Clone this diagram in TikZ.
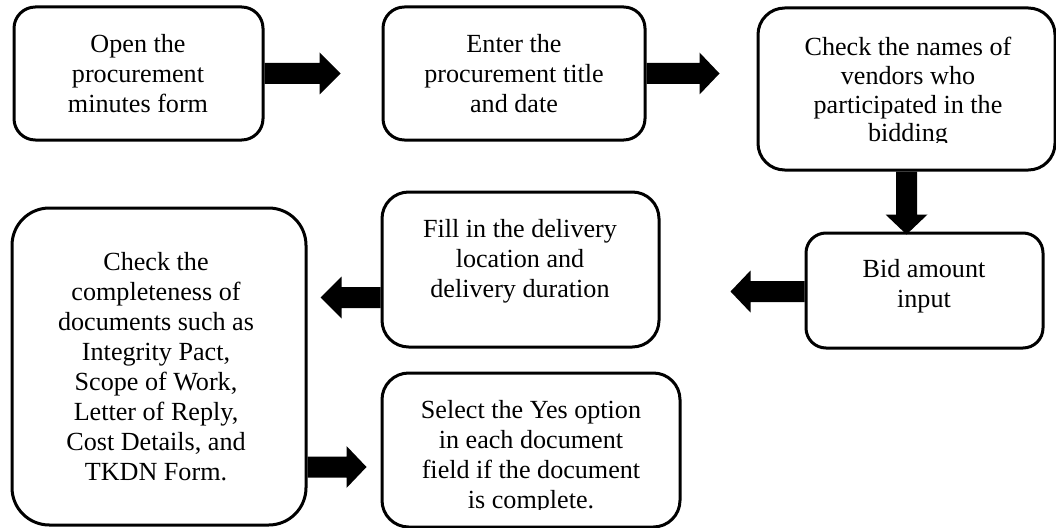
\documentclass[tikz,border=0pt]{standalone}
\usepackage{fontspec}
\setmainfont{Liberation Serif}
\usetikzlibrary{fit,calc}

\tikzset{
  stepbox/.style={draw, line width=2.25pt, inner sep=0pt, fill=white},
  steptext/.style={anchor=north, align=center, inner sep=0pt,
    font=\fontsize{19.6}{22.5}\selectfont},
}

% Block arrow: #1 start point, #2 rotation, #3 shaft length, #4 head length
\newcommand{\blockarrow}[4]{%
  \fill[shift={(#1)}, rotate=#2]
    (0,-10.5) -- (#3,-10.5) -- (#3,-21) -- ({#3+#4},0)
    -- (#3,21) -- (#3,10.5) -- (0,10.5) -- cycle;}

\begin{document}
\begin{tikzpicture}[x=0.75pt,y=-0.75pt]
\useasboundingbox (0,0) rectangle (1056,528);

% step boxes
\node[stepbox, rounded corners=16pt, fit={(14,7) (263,140)}] (b1) {};
\node[stepbox, rounded corners=16pt, fit={(383,7) (645,140)}] (b2) {};
\node[stepbox, rounded corners=20pt, fit={(758,8) (1055,170)}] (b3) {};
\node[stepbox, rounded corners=15pt, fit={(806,233) (1043,348)}] (b4) {};
\node[stepbox, rounded corners=20pt, fit={(382,192) (659,347)}] (b5) {};
\node[stepbox, rounded corners=28pt, fit={(12,208) (306,525)}] (b6) {};
\node[stepbox, rounded corners=20pt, fit={(382,373) (680,527)}] (b7) {};

% step texts
\node[steptext] (t1) at (138,34) {Open the\\procurement\\minutes form};
\node[steptext] (t2) at (514,34) {Enter the\\procurement title\\and date};
\begin{scope}
  \clip (758,0) rectangle (1056,142);
  \node[steptext, font=\fontsize{19.6}{21.5}\selectfont] (t3) at (908,37)
    {Check the names of\\vendors who\\participated in the\\bidding};
\end{scope}
\node[steptext] (t4) at (924,259) {Bid amount\\input};
\node[steptext] (t5) at (520,219) {Fill in the delivery\\location and\\delivery duration};
\node[steptext] (t6) at (156,252) {Check the\\completeness of\\documents such as\\Integrity Pact,\\Scope of Work,\\Letter of Reply,\\Cost Details, and\\TKDN Form.};
\begin{scope}
  \clip (382,373) rectangle (680,509);
  \node[steptext] (t7) at (531,400) {Select the Yes option\\in each document\\field if the document\\is complete.};
\end{scope}

% flow arrows
\blockarrow{b1.east}{0}{55}{21}
\blockarrow{b2.east}{0}{53}{20}
\blockarrow{b3.south}{-90}{43}{20}
\blockarrow{$(b4.west)+(0,1)$}{180}{54}{20}
\blockarrow{$(b5.west)+(0,28)$}{180}{39}{21}
\blockarrow{$(b6.east)+(0,100.5)$}{0}{39}{20}
\end{tikzpicture}
\end{document}
